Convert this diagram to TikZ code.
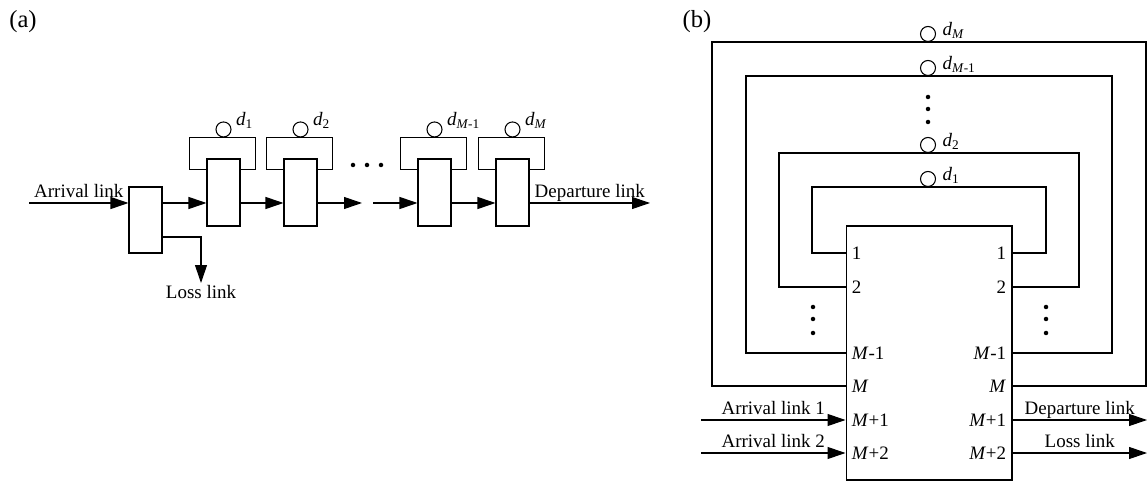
\documentclass[tikz,border=0pt]{standalone}
\usepackage{fontspec}
\setmainfont{Liberation Serif}
\usetikzlibrary{arrows.meta,calc,positioning}

\tikzstyle{qbox}=[draw, fill=white, minimum width=0.66cm, minimum height=1.34cm, inner sep=0pt]
\tikzstyle{dcirc}=[draw, circle, minimum size=0.3cm, inner sep=0pt, anchor=south]
\tikzstyle{flow}=[-{Triangle[length=0.36cm,width=0.24cm]}]
\tikzstyle{lab}=[above, inner sep=3pt, text depth=0pt]
\tikzstyle{tag}=[font=\fontsize{14}{16}\selectfont]

\newcommand{\dsub}[1]{\textit{d}\textsubscript{#1}}

\begin{document}
\begin{tikzpicture}[x=0.02cm, y=-0.02cm, line width=0.6pt, font=\fontsize{10.8}{12}\selectfont]
    \useasboundingbox (0,0) rectangle (1148,482);

    % (a) chain of queues
    \node[tag] (la) at (23,22) {(a)};
    \node[qbox, minimum height=1.32cm] (s) at (145.5,220) {};
    \node[qbox] (q1) at (223.5,192.5) {};
    \node[qbox] (q2) at (300.5,192.5) {};
    \node[qbox] (q3) at (434.5,192.5) {};
    \node[qbox] (q4) at (512.5,192.5) {};
    \foreach \q/\i in {q1/1, q2/2, q3/{\textit{M}-1}, q4/\textit{M}} {
        \draw ($(\q.north west)+(0,11)$) -- ++(-17,0) -- ++(0,-32) -- ++(66,0) -- ++(0,32) -- ($(\q.north east)+(0,11)$);
        \node[dcirc] (c\q) at ($(\q.north)+(0,-21)$) {};
        \node[anchor=base west, inner sep=0pt] (l\q) at ($(c\q.south)+(12,-12)$) {\dsub{\i}};
    }
    \coordinate (ain) at (29,203);
    \coordinate (gap1) at (362,203);
    \coordinate (gap2) at (373,203);
    \coordinate (aout) at (650,203);
    \coordinate (lout) at (201,283);
    \draw[flow] (ain) -- node[lab] (tarr) {Arrival link} (ain -| s.west);
    \draw[flow] (s.east |- ain) -- (q1.west |- ain);
    \draw[flow] (q1.east |- ain) -- (q2.west |- ain);
    \draw[flow] (q2.east |- ain) -- (gap1);
    \draw[flow] (gap2) -- (q3.west |- ain);
    \draw[flow] (q3.east |- ain) -- (q4.west |- ain);
    \draw[flow] (q4.east |- ain) -- node[lab] (tdep) {Departure link} (aout);
    \draw[flow] (s.east |- 0,237) -| (lout);
    \node[below, inner sep=1pt] (tloss) at (lout) {Loss link};
    \foreach \x in {353,367,381}
        \fill (\x,165) circle[radius=0.045cm];

    % (b) shared switch
    \node[tag] (lb) at (697,22) {(b)};
    \node[draw, minimum width=3.32cm, minimum height=5.08cm, inner sep=0pt] (sw) at (929,353) {};
    \foreach \y/\lx/\rx/\ty/\i in {253/812/1046/187/1, 287/779/1079/153/2, 353/746/1112/76/{\textit{M}-1}, 386/712/1146/42/\textit{M}} {
        \draw (sw.west |- 0,\y) -| (\lx,\ty) -| (\rx,\y) -- (sw.east |- 0,\y);
        \node[dcirc] (d\y) at (928,\ty) {};
        \node[anchor=base west, inner sep=0pt] (t\y) at ($(d\y.south)+(14,-6)$) {\dsub{\i}};
    }
    \foreach \y/\t in {253/1, 287/2, 353/{\textit{M}-1}, 386/\textit{M}, 420/{\textit{M}+1}, 453/{\textit{M}+2}} {
        \node[anchor=west] (pl\y) at (sw.west |- 0,\y) {\t};
        \node[anchor=east] (pr\y) at (sw.east |- 0,\y) {\t};
    }
    \foreach \y in {97,109,122}
        \fill (928,\y) circle[radius=0.045cm];
    \foreach \y in {307,319,333} {
        \fill (813,\y) circle[radius=0.045cm];
        \fill (1046,\y) circle[radius=0.045cm];
    }
    \coordinate (in1) at (701,420);
    \coordinate (in2) at (701,453);
    \coordinate (out1) at (1147,420);
    \coordinate (out2) at (1147,453);
    \draw[flow] (in1) -- node[lab] (tin1) {Arrival link 1} (sw.west |- in1);
    \draw[flow] (in2) -- node[lab] (tin2) {Arrival link 2} (sw.west |- in2);
    \draw[flow] (sw.east |- out1) -- node[lab] (tout1) {Departure link} (out1);
    \draw[flow] (sw.east |- out2) -- node[lab] (tout2) {Loss link} (out2);
\end{tikzpicture}
\end{document}
